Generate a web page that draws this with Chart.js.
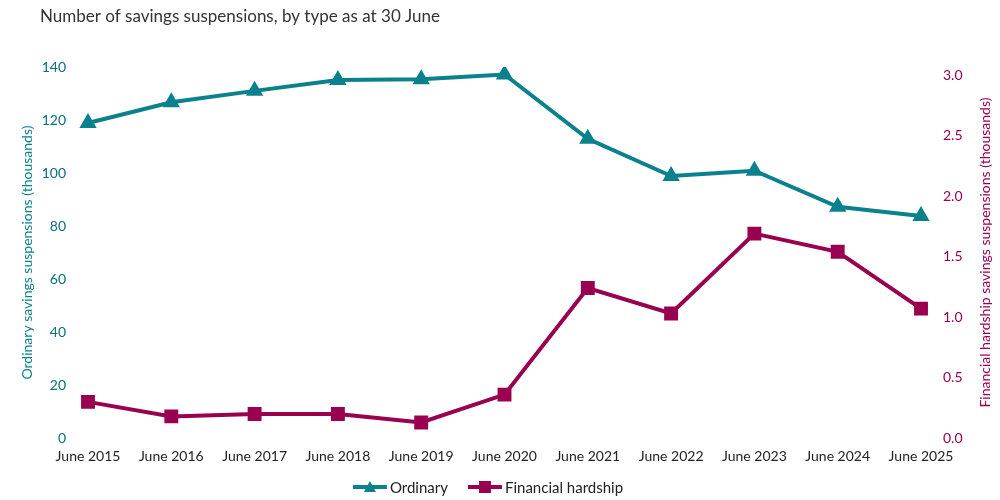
<!DOCTYPE html>
<html>
<head>
<meta charset="utf-8">
<script src="https://cdn.jsdelivr.net/npm/chart.js@4"></script>
<style>
  html, body { margin: 0; padding: 0; background: #fff; }
  #wrap { width: 1000px; height: 500px; }
</style>
</head>
<body>
<div id="wrap"><canvas id="chart"></canvas></div>
<script>
const labels = ["June 2015", "June 2016", "June 2017", "June 2018", "June 2019", "June 2020",
  "June 2021", "June 2022", "June 2023", "June 2024", "June 2025"];
const ordinary = [118.9, 126.7, 131.0, 135.1, 135.4, 137.2, 112.9, 98.9, 100.9, 87.3, 83.8];
const hardship = [0.30, 0.18, 0.20, 0.20, 0.13, 0.36, 1.24, 1.03, 1.69, 1.54, 1.07];
const hardshipTicks = [0, 0.5, 1.0, 1.5, 2.0, 2.5, 3.0];

const teal = "#0b818e";
const maroon = "#990050";
const font = "Lato, 'Open Sans', sans-serif";

// title, axis titles (right one reads bottom to top) and the legend
const textPlugin = {
  id: "texts",
  afterDraw(chart) {
    const ctx = chart.ctx;
    const area = chart.chartArea;
    const midY = (area.top + area.bottom) / 2;
    ctx.save();
    ctx.font = "17px " + font;
    ctx.fillStyle = "#333";
    ctx.textBaseline = "middle";
    ctx.fillText("Number of savings suspensions, by type as at 30 June", 40, 17);

    ctx.font = "14px " + font;
    ctx.textAlign = "center";
    ctx.fillStyle = teal;
    ctx.save();
    ctx.translate(27, midY);
    ctx.rotate(-Math.PI / 2);
    ctx.fillText("Ordinary savings suspensions (thousands)", 0, 0);
    ctx.restore();

    ctx.save();
    ctx.fillStyle = maroon;
    ctx.translate(985, midY);
    ctx.rotate(-Math.PI / 2);
    ctx.fillText("Financial hardship savings suspensions (thousands)", 0, 0);
    ctx.restore();

    // legend: line with marker, then label
    ctx.font = "15px " + font;
    ctx.textAlign = "left";
    const sets = chart.data.datasets;
    const iconW = 34, gap = 3, between = 20;
    const widths = sets.map((d) => iconW + gap + ctx.measureText(d.label).width);
    let x = 488 - (widths[0] + widths[1] + between) / 2;
    const y = 487;
    sets.forEach((d, i) => {
      ctx.strokeStyle = d.borderColor;
      ctx.fillStyle = d.borderColor;
      ctx.lineWidth = 4;
      ctx.beginPath(); ctx.moveTo(x, y); ctx.lineTo(x + iconW, y); ctx.stroke();
      ctx.beginPath();
      const cx = x + iconW / 2;
      if (d.pointStyle === "triangle") {
        ctx.moveTo(cx, y - 6); ctx.lineTo(cx + 6, y + 5); ctx.lineTo(cx - 6, y + 5); ctx.closePath();
      } else {
        ctx.rect(cx - 6, y - 6, 12, 12);
      }
      ctx.fill();
      ctx.fillStyle = "#222";
      ctx.fillText(d.label, x + iconW + gap, y + 1);
      x += widths[i] + between;
    });
    ctx.restore();
  }
};

new Chart(document.getElementById("chart"), {
  type: "line",
  data: {
    labels: labels,
    datasets: [
      {
        label: "Ordinary",
        data: ordinary,
        yAxisID: "y",
        borderColor: teal,
        backgroundColor: teal,
        borderWidth: 4,
        pointStyle: "triangle",
        pointRadius: 6,
        pointHoverRadius: 6,
        tension: 0,
      },
      {
        label: "Financial hardship",
        data: hardship,
        yAxisID: "y1",
        borderColor: maroon,
        backgroundColor: maroon,
        borderWidth: 4,
        pointStyle: "rect",
        pointRadius: 7,
        pointHoverRadius: 7,
        tension: 0,
      },
    ],
  },
  options: {
    responsive: true,
    maintainAspectRatio: false,
    animation: false,
    layout: { padding: { top: 67, left: 0, right: 0, bottom: 33 } },
    plugins: {
      title: { display: false },
      tooltip: { enabled: false },
      legend: { display: false },
    },
    scales: {
      x: {
        offset: false,
        grid: { display: false },
        border: { display: false },
        ticks: { color: "#222", font: { family: font, size: 14 }, maxRotation: 0, autoSkip: false, padding: 2 },
      },
      y: {
        position: "left",
        min: 0,
        max: 140,
        grid: { display: false },
        border: { display: false },
        ticks: { stepSize: 20, color: "#0a6f78", font: { family: font, size: 14 }, padding: 14 },
        afterFit(scale) { scale.width = 88; },
      },
      y1: {
        position: "right",
        min: 0,
        max: 3.066,
        grid: { display: false },
        border: { display: false },
        ticks: {
          color: maroon,
          font: { family: font, size: 14 },
          padding: 14,
          callback: (v) => v.toFixed(1),
        },
        afterBuildTicks(scale) { scale.ticks = hardshipTicks.map((v) => ({ value: v })); },
        afterFit(scale) { scale.width = 79; },
      },
    },
  },
  plugins: [textPlugin],
});
</script>
</body>
</html>
